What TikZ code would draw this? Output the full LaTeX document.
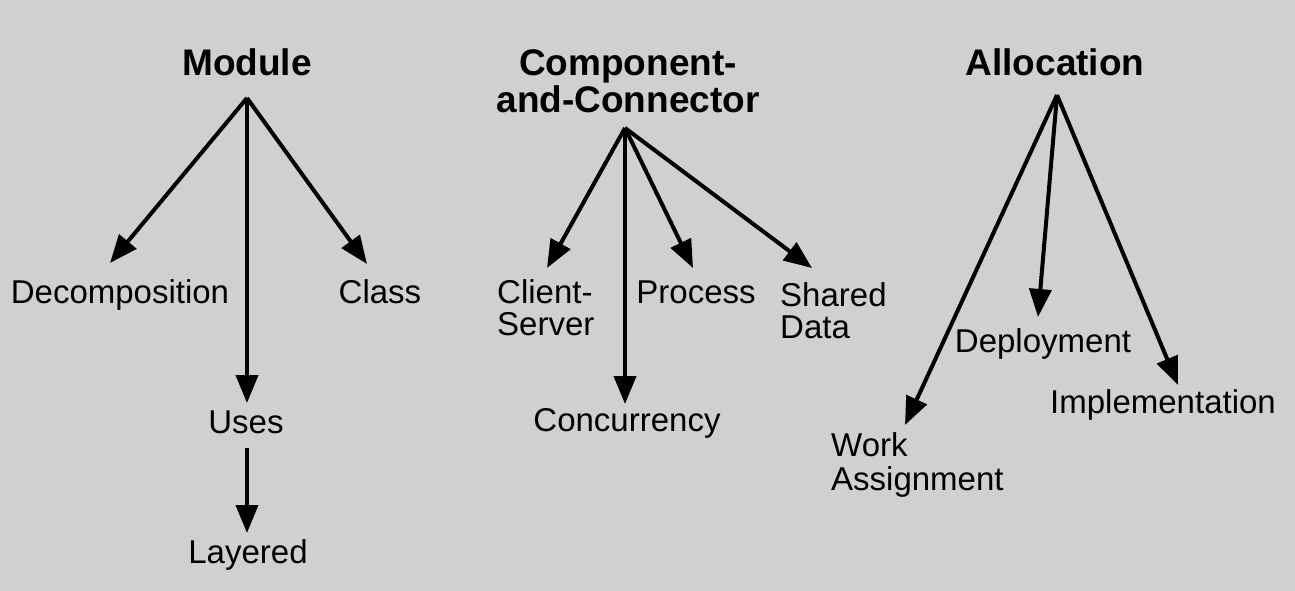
\documentclass[tikz,border=0pt]{standalone}
\usepackage{fontspec}
\setmainfont{Liberation Sans}
\usetikzlibrary{arrows.meta}
\definecolor{bg}{RGB}{208,208,208}
\begin{document}
\begin{tikzpicture}[x=1pt,y=-1pt,
  arr/.style={line width=4pt,-{Triangle[length=28pt,width=22pt]}},
  lab/.style={inner sep=0pt,font=\fontsize{33}{32}\selectfont},
  ttl/.style={inner sep=0pt,font=\fontsize{37}{37}\selectfont\bfseries}]
\fill[bg] (0,0) rectangle (1295,591);
\useasboundingbox (0,0) rectangle (1295,591);
% titles
\node[ttl,anchor=base] (mod) at (247,76) {Module};
\node[ttl,anchor=base,align=center] (cc) at (628,113) {Component-\\and-Connector};
\node[ttl,anchor=base] (alloc) at (1055,76) {Allocation};
% module labels
\node[lab,anchor=base] (dec) at (120,303) {Decomposition};
\node[lab,anchor=base] (cls) at (380,303) {Class};
\node[lab,anchor=base] (uses) at (246,433) {Uses};
\node[lab,anchor=base] (lay) at (248,563) {Layered};
% C&C labels
\node[lab,anchor=base west,align=left] (cs) at (497,335) {Client-\\Server};
\node[lab,anchor=base] (proc) at (696,303) {Process};
\node[lab,anchor=base west,align=left] (sd) at (780,338) {Shared\\Data};
\node[lab,anchor=base] (conc) at (627,431) {Concurrency};
% allocation labels
\node[lab,anchor=base] (dep) at (1043,352) {Deployment};
\node[lab,anchor=base] (impl) at (1163,413) {Implementation};
\node[lab,anchor=base west,align=left,font=\fontsize{33}{34}\selectfont] (wa) at (831,490) {Work\\Assignment};
% coordinates
\coordinate (mo) at (247,98);
\coordinate (tdec) at (110,263);
\coordinate (tcls) at (367,264);
\coordinate (tuses) at (247,403);
\coordinate (suses) at (247,448);
\coordinate (tlay) at (247,533);
\coordinate (co) at (625,128);
\coordinate (tcs) at (547,268);
\coordinate (tconc) at (625,404);
\coordinate (tproc) at (693,268);
\coordinate (tsd) at (812,268);
\coordinate (ao) at (1057,95);
\coordinate (twa) at (905,425);
\coordinate (tdep) at (1038,317);
\coordinate (timpl) at (1178,385);
% arrows
\draw[arr] (mo) -- (tdec);
\draw[arr] (mo) -- (tcls);
\draw[arr] (mo) -- (tuses);
\draw[arr] (suses) -- (tlay);
\draw[arr] (co) -- (tcs);
\draw[arr] (co) -- (tconc);
\draw[arr] (co) -- (tproc);
\draw[arr] (co) -- (tsd);
\draw[arr] (ao) -- (twa);
\draw[arr] (ao) -- (tdep);
\draw[arr] (ao) -- (timpl);
\end{tikzpicture}
\end{document}
